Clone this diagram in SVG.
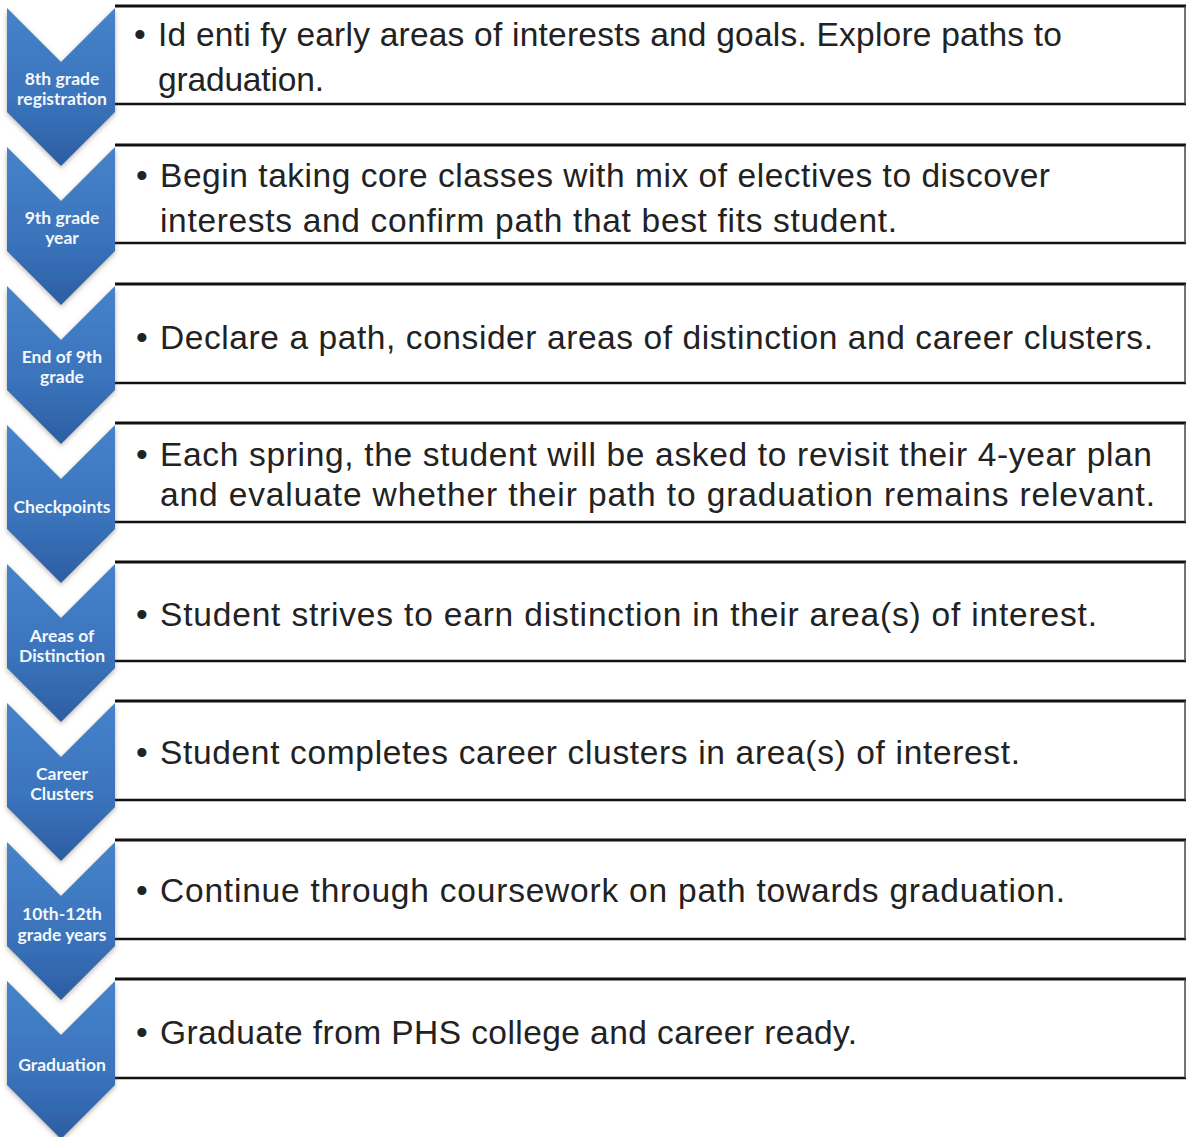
<svg xmlns="http://www.w3.org/2000/svg" width="1186" height="1137" viewBox="0 0 1186 1137">
<style>
.chev{fill:url(#g);filter:url(#sh)}
.lbl{font-family:Lato,"Liberation Sans",sans-serif;font-weight:bold;font-size:17.5px;fill:#f4f7fb;text-anchor:middle}
.txt{font-family:"Liberation Sans",Arial,sans-serif;font-size:33.5px;fill:#222}
.top{stroke:#111;stroke-width:3}
.bot{stroke:#111;stroke-width:2.5}
.side{stroke:#444;stroke-width:1.5}
</style>
<defs>
<linearGradient id="g" x1="0" y1="0" x2="0" y2="1">
<stop offset="0" stop-color="#4683ca"/>
<stop offset="0.6" stop-color="#3a73bb"/>
<stop offset="1" stop-color="#2c5ea3"/>
</linearGradient>
<filter id="sh" x="-20%" y="-10%" width="140%" height="130%">
<feDropShadow dx="0" dy="2" stdDeviation="2.5" flood-color="#6b5a40" flood-opacity="0.45"/>
</filter>
<path id="cv" d="M7,0 L61,54 L115,0 L115,104 L61,158 L7,104 Z"/>
</defs>
<rect width="1186" height="1137" fill="#fff"/>

<g id="connectors">
<line class="top" x1="115" y1="6" x2="1186" y2="6"/><line class="bot" x1="115" y1="104" x2="1186" y2="104"/><line class="side" x1="1185" y1="6" x2="1185" y2="104"/>
<line class="top" x1="115" y1="145" x2="1186" y2="145"/><line class="bot" x1="115" y1="243" x2="1186" y2="243"/><line class="side" x1="1185" y1="145" x2="1185" y2="243"/>
<line class="top" x1="115" y1="284" x2="1186" y2="284"/><line class="bot" x1="115" y1="383" x2="1186" y2="383"/><line class="side" x1="1185" y1="284" x2="1185" y2="383"/>
<line class="top" x1="115" y1="423" x2="1186" y2="423"/><line class="bot" x1="115" y1="522" x2="1186" y2="522"/><line class="side" x1="1185" y1="423" x2="1185" y2="522"/>
<line class="top" x1="115" y1="562" x2="1186" y2="562"/><line class="bot" x1="115" y1="661" x2="1186" y2="661"/><line class="side" x1="1185" y1="562" x2="1185" y2="661"/>
<line class="top" x1="115" y1="701" x2="1186" y2="701"/><line class="bot" x1="115" y1="800" x2="1186" y2="800"/><line class="side" x1="1185" y1="701" x2="1185" y2="800"/>
<line class="top" x1="115" y1="840" x2="1186" y2="840"/><line class="bot" x1="115" y1="939" x2="1186" y2="939"/><line class="side" x1="1185" y1="840" x2="1185" y2="939"/>
<line class="top" x1="115" y1="979" x2="1186" y2="979"/><line class="bot" x1="115" y1="1078" x2="1186" y2="1078"/><line class="side" x1="1185" y1="979" x2="1185" y2="1078"/>
</g>

<g id="step1">
<use href="#cv" class="chev" y="8"/>
<text class="lbl" x="62" y="85">8th grade</text>
<text class="lbl" x="62" y="105">registration</text>
<text class="txt" x="134" y="46">•</text>
<text class="txt" x="158" y="46" textLength="904" lengthAdjust="spacing">Id enti fy early areas of interests and goals. Explore paths to</text>
<text class="txt" x="158" y="91" textLength="166" lengthAdjust="spacing">graduation.</text>
</g>

<g id="step2">
<use href="#cv" class="chev" y="147"/>
<text class="lbl" x="62" y="224">9th grade</text>
<text class="lbl" x="62" y="244">year</text>
<text class="txt" x="136" y="187">•</text>
<text class="txt" x="160" y="187" textLength="890" lengthAdjust="spacing">Begin taking core classes with mix of electives to discover</text>
<text class="txt" x="160" y="232" textLength="737" lengthAdjust="spacing">interests and confirm path that best fits student.</text>
</g>

<g id="step3">
<use href="#cv" class="chev" y="286"/>
<text class="lbl" x="62" y="363">End of 9th</text>
<text class="lbl" x="62" y="383">grade</text>
<text class="txt" x="136" y="349">•</text>
<text class="txt" x="160" y="349" textLength="993" lengthAdjust="spacing">Declare a path, consider areas of distinction and career clusters.</text>
</g>

<g id="step4">
<use href="#cv" class="chev" y="425"/>
<text class="lbl" x="62" y="513">Checkpoints</text>
<text class="txt" x="136" y="466">•</text>
<text class="txt" x="160" y="466" textLength="992" lengthAdjust="spacing">Each spring, the student will be asked to revisit their 4-year plan</text>
<text class="txt" x="160" y="506" textLength="995" lengthAdjust="spacing">and evaluate whether their path to graduation remains relevant.</text>
</g>

<g id="step5">
<use href="#cv" class="chev" y="564"/>
<text class="lbl" x="62" y="642">Areas of</text>
<text class="lbl" x="62" y="662">Distinction</text>
<text class="txt" x="136" y="626">•</text>
<text class="txt" x="160" y="626" textLength="937" lengthAdjust="spacing">Student strives to earn distinction in their area(s) of interest.</text>
</g>

<g id="step6">
<use href="#cv" class="chev" y="703"/>
<text class="lbl" x="62" y="780">Career</text>
<text class="lbl" x="62" y="800">Clusters</text>
<text class="txt" x="136" y="764">•</text>
<text class="txt" x="160" y="764" textLength="860" lengthAdjust="spacing">Student completes career clusters in area(s) of interest.</text>
</g>

<g id="step7">
<use href="#cv" class="chev" y="842"/>
<text class="lbl" x="62" y="920">10th-12th</text>
<text class="lbl" x="62" y="941">grade years</text>
<text class="txt" x="136" y="902">•</text>
<text class="txt" x="160" y="902" textLength="905" lengthAdjust="spacing">Continue through coursework on path towards graduation.</text>
</g>

<g id="step8">
<use href="#cv" class="chev" y="981"/>
<text class="lbl" x="62" y="1071">Graduation</text>
<text class="txt" x="136" y="1044">•</text>
<text class="txt" x="160" y="1044" textLength="697" lengthAdjust="spacing">Graduate from PHS college and career ready.</text>
</g>
</svg>
